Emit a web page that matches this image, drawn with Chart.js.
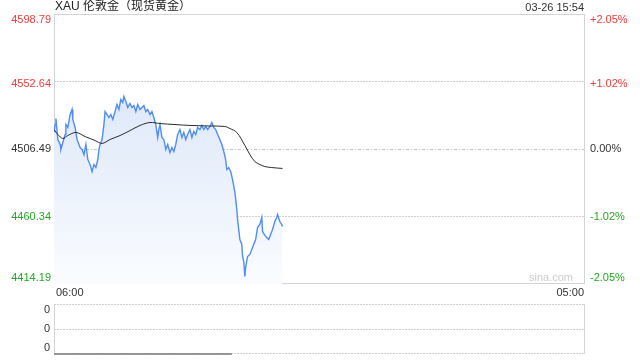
<!DOCTYPE html>
<html>
<head>
<meta charset="utf-8">
<script src="https://cdn.jsdelivr.net/npm/chart.js@4/dist/chart.umd.min.js"></script>
<style>
  html, body { margin: 0; padding: 0; background: #fff; }
  #wrap { position: relative; width: 640px; height: 360px; overflow: hidden; }
  #main { position: absolute; left: 0; top: 0; }
  #vol { position: absolute; left: 0; top: 300px; }
</style>
</head>
<body>
<div id="wrap">
  <canvas id="main" width="640" height="300"></canvas>
  <canvas id="vol" width="640" height="60"></canvas>
</div>
<script>
// ---- data (minutes after 06:00) ----
const titleText = 'XAU 伦敦金（现货黄金）';
const timeText = '03-26 15:54';
const priceMinutes = [0,3,5,10,16,18,23,29,31,36,42,47,49,55,60,65,68,73,78,83,88,94,99,104,109,114,117,120,125,130,133,138,143,148,153,159,164,169,174,179,182,187,192,198,203,208,213,218,224,229,234,239,244,250,255,260,265,270,273,276,281,286,291,296,302,307,312,317,322,328,333,338,343,348,354,359,364,369,374,380,385,390,395,400,406,411,416,421,426,432,437,442,447,450,455,460,465,471,476,478,484,489,491,494,497,499,504,510,515,520,525,530,536,541,543,549,554,559,564,569,575,580,582,588,593,595];
const prices = [4517.8,4523.2,4527.3,4513.0,4509.6,4506.2,4510.9,4516.4,4523.2,4521.2,4530.1,4533.5,4526.7,4521.2,4513.0,4509.6,4507.5,4506.2,4502.7,4509.6,4499.3,4495.9,4491.1,4495.9,4493.8,4499.3,4506.2,4509.6,4513.0,4523.2,4532.1,4530.1,4528.0,4530.1,4526.7,4532.1,4536.9,4533.5,4540.3,4538.3,4542.4,4539.0,4534.9,4537.6,4534.9,4536.2,4532.1,4536.9,4533.5,4534.9,4536.2,4532.1,4533.5,4530.1,4532.1,4528.0,4523.2,4514.4,4519.8,4523.2,4514.4,4513.0,4506.2,4509.6,4504.1,4507.5,4504.8,4509.6,4516.4,4519.8,4514.4,4517.8,4513.0,4516.4,4519.8,4514.4,4518.5,4516.4,4521.2,4519.8,4522.6,4519.8,4521.9,4519.8,4521.9,4524.6,4521.2,4519.8,4516.4,4513.0,4509.6,4504.8,4499.3,4492.5,4493.8,4491.1,4485.6,4476.8,4465.1,4458.3,4444.6,4441.2,4433.0,4429.6,4419.3,4425.5,4433.0,4434.4,4437.8,4441.2,4444.6,4452.8,4454.9,4459.7,4450.1,4447.4,4446.0,4444.6,4448.0,4451.5,4456.9,4459.7,4461.7,4456.9,4454.9,4453.5];
const avgMinutes = [0,10,23,36,57,81,107,125,146,172,198,224,250,276,315,354,406,445,458,476,497,510,523,536,549,567,595];
const avgPrices = [4519.8,4516.4,4513.7,4515.7,4517.8,4515.0,4512.3,4510.3,4513.0,4515.7,4519.1,4522.6,4524.6,4523.9,4523.2,4522.6,4522.2,4521.9,4520.5,4517.8,4508.9,4502.7,4497.9,4495.9,4494.5,4493.8,4493.2];
const leftTicks = [4414.19, 4460.34, 4506.49, 4552.64, 4598.79];
const leftTickLabels = ['4414.19','4460.34','4506.49','4552.64','4598.79'];
const rightTickLabels = ['-2.05%','-1.02%','0.00%','+1.02%','+2.05%'];
const xTickMinutes = [0, 1380];
const xTickLabels = ['06:00', '05:00'];
const volMinutes = [0, 60, 120, 180, 240, 300, 360, 420, 463];
const volValues = [0, 0, 0, 0, 0, 0, 0, 0, 0];
const volTicks = [0, 1, 2];
const volTickLabels = ['0', '0', '0'];

const RED = '#f03c3c', GREEN = '#22a822', DARK = '#333333';
const tickColors = [GREEN, GREEN, DARK, RED, RED];
const FONT = '"Liberation Sans", Arial, sans-serif';

function hline(ctx, x1, x2, y, color, dash) {
  ctx.save();
  ctx.strokeStyle = color; ctx.lineWidth = 1;
  ctx.setLineDash(dash || []);
  ctx.beginPath(); ctx.moveTo(x1, Math.round(y) + 0.5); ctx.lineTo(x2, Math.round(y) + 0.5); ctx.stroke();
  ctx.restore();
}
function vline(ctx, x, y1, y2, color) {
  ctx.save();
  ctx.strokeStyle = color; ctx.lineWidth = 1;
  ctx.beginPath(); ctx.moveTo(Math.round(x) + 0.5, y1); ctx.lineTo(Math.round(x) + 0.5, y2); ctx.stroke();
  ctx.restore();
}

const mainFrame = {
  id: 'mainFrame',
  beforeDatasetsDraw(chart) {
    const { ctx, chartArea: ca, scales } = chart;
    leftTicks.forEach((v, i) => {
      if (i === 0 || i === leftTicks.length - 1) return;
      const y = scales.y.getPixelForValue(v);
      hline(ctx, ca.left, ca.right, y, i === 2 ? '#c4c4c4' : '#d0d0d0', i === 2 ? [3, 2, 1, 2] : [2, 1]);
    });
    hline(ctx, ca.left, ca.right, ca.top, '#d4d4d4');
    hline(ctx, ca.left, ca.right, ca.bottom - 1, '#d4d4d4');
    vline(ctx, ca.left, ca.top, ca.bottom, '#d4d4d4');
    vline(ctx, ca.right, ca.top, ca.bottom, '#d4d4d4');
    ctx.save();
    ctx.font = '11px ' + FONT; ctx.fillStyle = '#cccccc';
    ctx.textAlign = 'right'; ctx.textBaseline = 'middle';
    ctx.fillText('sina.com', ca.right - 11, ca.bottom - 6);
    ctx.restore();
  },
  afterDraw(chart) {
    const { ctx, chartArea: ca, scales } = chart;
    ctx.save();
    ctx.font = '11px ' + FONT;
    ctx.textBaseline = 'middle';
    leftTicks.forEach((v, i) => {
      let y = scales.y.getPixelForValue(v);
      if (i === leftTicks.length - 1) y += 6;
      else if (i === 0) y -= 6;
      else y += (i === 3 ? 2 : 0);
      ctx.fillStyle = tickColors[i];
      ctx.textAlign = 'right';
      ctx.fillText(leftTickLabels[i], ca.left - 3, y);
      ctx.textAlign = 'left';
      ctx.fillText(rightTickLabels[i], ca.right + 6, y);
    });
    ctx.fillStyle = DARK;
    xTickMinutes.forEach((m, i) => {
      const x = scales.x.getPixelForValue(m);
      ctx.textAlign = i === 0 ? 'left' : 'right';
      ctx.fillText(xTickLabels[i], x + (i === 0 ? 2 : 0), ca.bottom + 9);
    });
    ctx.textAlign = 'right';
    ctx.fillText(timeText, ca.right, 8);
    ctx.font = '12px ' + FONT + ', "Noto Sans CJK SC"';
    ctx.textAlign = 'left';
    ctx.fillStyle = '#222';
    ctx.fillText(titleText, ca.left + 1, 7);
    ctx.restore();
  }
};

function toPoints(xs, ys) { return xs.map((x, i) => ({ x: x, y: ys[i] })); }

new Chart(document.getElementById('main'), {
  type: 'line',
  data: {
    datasets: [
      {
        data: toPoints(avgMinutes, avgPrices),
        borderColor: '#2a2a2a', borderWidth: 1, pointRadius: 0, fill: false, tension: 0.35, order: 0
      },
      {
        data: toPoints(priceMinutes, prices),
        borderColor: '#4f8df5', borderWidth: 1.4, pointRadius: 0, tension: 0,
        fill: 'start', order: 1,
        backgroundColor: (c) => {
          const ca = c.chart.chartArea;
          if (!ca) return 'rgba(220,230,250,0.6)';
          const g = c.chart.ctx.createLinearGradient(0, ca.top, 0, ca.bottom);
          g.addColorStop(0, '#d2e0f8');
          g.addColorStop(0.5, '#e6eefb');
          g.addColorStop(1, '#fafcff');
          return g;
        }
      }
    ]
  },
  options: {
    responsive: false, animation: false, devicePixelRatio: 1,
    layout: { padding: { left: 54, right: 56, top: 14, bottom: 16 } },
    plugins: { legend: { display: false }, tooltip: { enabled: false } },
    scales: {
      x: { type: 'linear', min: 0, max: 1380, display: false },
      y: { type: 'linear', min: leftTicks[0], max: leftTicks[leftTicks.length - 1], display: false }
    }
  },
  plugins: [mainFrame]
});

const volFrame = {
  id: 'volFrame',
  beforeDatasetsDraw(chart) {
    const { ctx, chartArea: ca, scales } = chart;
    volTicks.forEach((v) => {
      const y = scales.y.getPixelForValue(v);
      hline(ctx, ca.left, ca.right, v === 0 ? y - 1 : y, '#cfcfcf', [2, 1]);
    });
    vline(ctx, ca.left, ca.top, ca.bottom, '#d4d4d4');
    vline(ctx, ca.right, ca.top, ca.bottom, '#d4d4d4');
  },
  afterDraw(chart) {
    const { ctx, chartArea: ca, scales } = chart;
    ctx.save();
    ctx.font = '11px ' + FONT; ctx.fillStyle = DARK;
    ctx.textAlign = 'right'; ctx.textBaseline = 'middle';
    volTicks.forEach((v, i) => {
      let y = scales.y.getPixelForValue(v);
      if (i === 0) y -= 6; else if (i === volTicks.length - 1) y += 6;
      ctx.fillText(volTickLabels[i], ca.left - 4, y);
    });
    ctx.restore();
  }
};

new Chart(document.getElementById('vol'), {
  type: 'line',
  data: {
    datasets: [{
      data: toPoints(volMinutes, volValues),
      borderColor: '#777777', borderWidth: 1.5, pointRadius: 0, fill: false, clip: false
    }]
  },
  options: {
    responsive: false, animation: false, devicePixelRatio: 1,
    layout: { padding: { left: 54, right: 56, top: 4, bottom: 6 } },
    plugins: { legend: { display: false }, tooltip: { enabled: false } },
    scales: {
      x: { type: 'linear', min: 0, max: 1380, display: false },
      y: { type: 'linear', min: volTicks[0], max: volTicks[volTicks.length - 1], display: false }
    }
  },
  plugins: [volFrame]
});
</script>
</body>
</html>
